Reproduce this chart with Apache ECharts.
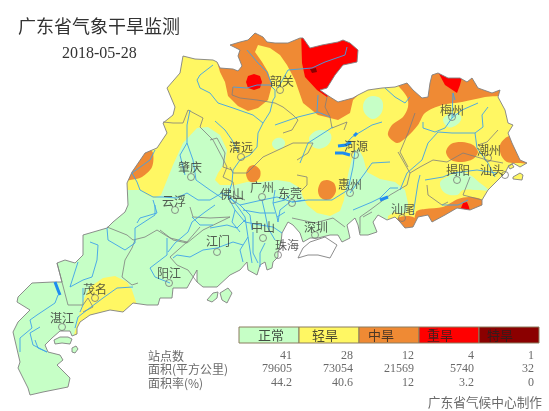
<!DOCTYPE html>
<html>
<head>
<meta charset="utf-8">
<style>html,body{margin:0;padding:0;background:#fff}#map{width:549px;height:411px}</style>
<script src="https://cdn.jsdelivr.net/npm/echarts@6/dist/echarts.min.js"></script>
</head>
<body>
<div id="map"></div>
<script>
// 表格数据
var gradeNames = ['正常', '轻旱', '中旱', '重旱', '特旱'];
var gradeColors = ['#C6FFC6', '#FFF763', '#EF8A34', '#FF0000', '#8B0000'];
var stationCounts = ['41', '28', '12', '4', '1'];
var areaValues = ['79605', '73054', '21569', '5740', '32'];
var areaRates = ['44.2', '40.6', '12', '3.2', '0'];
var rowNames = ['站点数', '面积(平方公里)', '面积率(%)'];

// 城市
var cityNames = ['韶关', '清远', '河源', '梅州', '潮州', '汕头', '揭阳', '肇庆', '云浮', '佛山', '广州', '东莞', '惠州', '汕尾', '中山', '江门', '珠海', '深圳', '阳江', '茂名', '湛江'];
var cityLabels = [[282, 81], [241, 147], [356, 146], [452, 110], [489, 150], [492, 170], [458, 170], [190, 167], [174, 201], [232, 194], [262, 187], [290, 193], [350, 184], [403, 209], [263, 227], [218, 241], [287, 245], [316, 227], [169, 273], [95, 289], [62, 318]];
var cityDots = [[280, 90], [241, 157], [355, 155], [452, 117], [488, 158], [505, 175], [457, 180], [191, 177], [175, 210], [233, 200], [262, 197], [292, 203], [350, 193], [402, 218], [263, 238], [217, 252], [278, 255], [315, 235], [169, 283], [95, 298], [62, 327]];

// 省界(图上坐标)
var outline = [[183, 56], [195, 59], [213, 60], [217, 62], [220, 68], [233, 69], [238, 71], [242, 66], [238, 56], [240, 50], [230, 45], [240, 42], [248, 40], [255, 33], [263, 37], [267, 42], [275, 43], [288, 43], [300, 38], [303, 38], [310, 48], [322, 45], [338, 42], [343, 40], [350, 43], [358, 50], [357, 62], [343, 65], [335, 75], [327, 88], [320, 90], [327, 95], [338, 102], [353, 98], [358, 95], [368, 90], [382, 88], [395, 87], [407, 83], [413, 90], [422, 98], [428, 97], [430, 83], [432, 75], [438, 73], [448, 78], [460, 78], [467, 82], [472, 78], [478, 88], [492, 93], [500, 90], [498, 97], [505, 110], [508, 123], [513, 125], [508, 133], [512, 143], [520, 160], [527, 163], [520, 167], [513, 163], [508, 167], [505, 173], [495, 183], [488, 190], [482, 200], [482, 205], [470, 210], [457, 208], [445, 215], [432, 222], [428, 215], [418, 217], [413, 227], [405, 228], [400, 222], [395, 217], [387, 220], [378, 215], [373, 222], [377, 232], [368, 235], [360, 235], [358, 225], [355, 218], [347, 225], [350, 238], [342, 242], [338, 235], [330, 235], [318, 238], [310, 238], [303, 242], [300, 233], [293, 225], [288, 222], [282, 233], [281, 243], [278, 252], [278, 257], [273, 262], [272, 268], [267, 270], [265, 262], [260, 265], [257, 275], [248, 270], [247, 262], [240, 270], [230, 275], [217, 287], [203, 287], [197, 282], [197, 270], [187, 288], [173, 288], [172, 298], [160, 298], [158, 305], [147, 305], [133, 303], [123, 312], [110, 310], [90, 315], [80, 322], [77, 328], [77, 334], [72, 336], [70, 331], [60, 331], [52, 338], [45, 345], [48, 352], [60, 355], [63, 360], [57, 365], [70, 378], [68, 387], [43, 392], [30, 395], [28, 388], [18, 368], [20, 362], [13, 332], [18, 322], [30, 310], [17, 302], [18, 297], [32, 283], [53, 282], [62, 282], [57, 263], [65, 260], [75, 263], [83, 255], [83, 235], [107, 228], [113, 222], [125, 212], [128, 205], [127, 183], [132, 172], [145, 153], [157, 148], [167, 133], [163, 123], [173, 115], [175, 107], [167, 88], [180, 73]];
var islandDonghai = [[54, 340], [60, 337], [68, 337], [72, 339], [70, 344], [62, 343], [55, 344]];
var islandNaozhou = [[72, 348], [76, 346], [78, 349], [75, 353], [72, 352]];
var islandHailing = [[207, 300], [213, 293], [218, 292], [217, 298], [212, 302]];
var islandShangchuan = [[220, 293], [228, 288], [232, 293], [227, 303], [222, 300]];
var islandNanao = [[513, 177], [520, 173], [523, 175], [522, 180], [513, 179]];
var islandEast = [[508, 166], [512, 164], [514, 167], [510, 169]];
var hongKong = [[310, 242], [325, 237], [337, 245], [330, 258], [318, 255], [308, 255], [298, 258], [303, 248]];

// 干旱等级分区
var yellowBase = [[0, 0], [549, 0], [549, 411], [0, 411]];
var greenMain = [[[100, 189], [130, 190], [140, 190], [147, 195], [155, 198], [161, 195], [173, 165], [183, 143], [197, 128], [208, 127], [220, 135], [227, 150], [225, 163], [218, 173], [215, 180], [220, 185], [235, 185], [247, 182], [260, 182], [277, 180], [290, 182], [300, 188], [303, 197], [307, 205], [317, 213], [330, 216], [340, 211], [344, 200], [346, 185], [349, 170], [353, 155], [358, 148], [363, 157], [367, 172], [380, 179], [395, 182], [405, 190], [408, 203], [407, 212], [400, 214], [395, 212], [388, 216], [385, 260], [200, 340], [0, 411], [0, 250]]];
var greenBlobs = [
    [[363, 107], [366, 99], [373, 96], [381, 99], [383, 107], [380, 115], [373, 119], [366, 115]],
    [[443, 120], [447, 115], [453, 113], [460, 115], [461, 120], [455, 126], [448, 127]],
    [[272, 143], [277, 138], [283, 139], [285, 144], [281, 149], [275, 149]],
    [[309, 139], [314, 132], [322, 130], [330, 133], [331, 140], [325, 147], [315, 148]],
    [[440, 183], [447, 177], [460, 172], [470, 175], [480, 183], [488, 190], [477, 190], [463, 190], [457, 195], [445, 193]]
];
var yellowMaoming = [[74, 335], [78, 320], [82, 303], [90, 287], [103, 278], [115, 276], [127, 282], [132, 290], [137, 305], [120, 325], [80, 340]];
var orangeNorth = [[[216, 58], [216, 25], [310, 25], [320, 85], [345, 85], [358, 95], [353, 100], [350, 113], [338, 120], [318, 115], [303, 103], [295, 80], [287, 65], [280, 55], [270, 48], [258, 45], [255, 52], [262, 62], [268, 72], [272, 85], [268, 100], [258, 108], [248, 111], [238, 106], [228, 96], [225, 82], [220, 72]]];
var orangeZones = [
    [[395, 80], [407, 97], [408, 107], [403, 117], [392, 125], [388, 135], [397, 143], [407, 137], [418, 125], [425, 113], [442, 105], [462, 102], [485, 97], [505, 94], [510, 80], [470, 60], [400, 70]],
    [[446, 152], [451, 144], [462, 142], [473, 145], [478, 152], [473, 159], [462, 162], [451, 160]],
    [[507, 137], [500, 145], [501, 155], [507, 162], [520, 163], [532, 163], [520, 135]],
    [[246, 174], [249, 167], [254, 165], [260, 170], [260, 177], [255, 182], [249, 181]],
    [[318, 190], [321, 182], [327, 180], [334, 183], [336, 191], [332, 198], [326, 200], [320, 197]],
    [[148, 148], [153, 153], [152, 167], [142, 177], [130, 180], [118, 181], [130, 150]],
    [[416, 212], [425, 209], [443, 207], [458, 199], [470, 197], [482, 200], [492, 215], [440, 240], [416, 232]],
    [[397, 219], [408, 216], [416, 219], [420, 232], [400, 235]]
];
var redZones = [
    [[301, 30], [302, 63], [305, 77], [317, 90], [327, 97], [340, 80], [370, 60], [370, 30]],
    [[437, 70], [445, 85], [457, 93], [460, 85], [462, 77], [465, 65], [440, 65]],
    [[246, 82], [248, 76], [254, 74], [260, 76], [262, 82], [260, 88], [254, 90], [248, 88]],
    [[461, 208], [463, 203], [467, 202], [469, 207], [470, 212], [462, 212]]
];
var darkRedZones = [[[310, 69], [316, 68], [317, 72], [312, 73]]];

// 河流
var rivers = [
    [[233, 87], [247, 88], [257, 85], [270, 85], [275, 90], [275, 97], [273, 100], [270, 112], [263, 123], [258, 133], [257, 147], [250, 155], [240, 160], [233, 170], [232, 183], [228, 195]],
    [[247, 50], [258, 63], [267, 72], [272, 85]],
    [[278, 88], [288, 70], [312, 68], [325, 62], [345, 55], [347, 47]],
    [[213, 65], [200, 75], [197, 80], [200, 88], [210, 93], [218, 103], [233, 108], [253, 115], [263, 123]],
    [[215, 121], [225, 130], [232, 140], [238, 152]],
    [[190, 110], [187, 125], [187, 143], [193, 160], [196, 180], [210, 190], [222, 198]],
    [[187, 143], [180, 155], [185, 175]],
    [[155, 150], [150, 160], [132, 173], [137, 182], [140, 190], [153, 197], [163, 197], [177, 198], [187, 193], [198, 200], [210, 200], [222, 193], [230, 197], [238, 207], [245, 217], [248, 237], [252, 263]],
    [[215, 205], [205, 212], [192, 222], [188, 232], [175, 243], [168, 252]],
    [[153, 200], [157, 213], [140, 218], [137, 223]],
    [[155, 205], [155, 215], [135, 228], [135, 243], [125, 250], [108, 240], [107, 228]],
    [[167, 238], [167, 255], [150, 268], [155, 277], [170, 283]],
    [[90, 242], [98, 245], [97, 260], [92, 277], [83, 280], [70, 287], [78, 262]],
    [[133, 287], [117, 288], [103, 298], [87, 310], [78, 317], [75, 328]],
    [[83, 288], [83, 305], [80, 312]],
    [[58, 295], [55, 303], [37, 315], [30, 320], [32, 328], [20, 338], [20, 352]],
    [[47, 352], [33, 345], [30, 333], [40, 327]],
    [[35, 340], [38, 348], [47, 352]],
    [[228, 197], [235, 210], [245, 222], [260, 225], [273, 227], [282, 233]],
    [[228, 197], [240, 205], [250, 215], [252, 230]],
    [[235, 210], [232, 222], [240, 232]],
    [[262, 200], [265, 213], [268, 228], [275, 240]],
    [[248, 237], [240, 250], [243, 262]],
    [[273, 203], [285, 200], [290, 195]],
    [[277, 217], [285, 212]],
    [[275, 190], [273, 203], [277, 217], [278, 222]],
    [[243, 210], [260, 213], [275, 213]],
    [[290, 202], [280, 210], [278, 222]],
    [[305, 200], [292, 202], [277, 197], [262, 200], [240, 205]],
    [[253, 232], [253, 253], [258, 263]],
    [[265, 243], [260, 253], [260, 267]],
    [[210, 228], [227, 225], [237, 228], [245, 220]],
    [[173, 258], [177, 255], [190, 257], [203, 250], [217, 248], [233, 242], [243, 245]],
    [[213, 225], [200, 225], [192, 217]],
    [[275, 125], [298, 117], [318, 112], [330, 117]],
    [[318, 95], [317, 112]],
    [[333, 127], [308, 143], [300, 163]],
    [[382, 122], [372, 125], [352, 137], [343, 147]],
    [[355, 150], [353, 167], [348, 190], [332, 200], [308, 200], [292, 202]],
    [[390, 162], [372, 163], [365, 173], [350, 193]],
    [[398, 188], [390, 188], [380, 198], [372, 202], [353, 210]],
    [[423, 122], [423, 128], [435, 132], [445, 128], [452, 118], [462, 110], [478, 103]],
    [[455, 100], [453, 93], [452, 118]],
    [[488, 107], [482, 115], [483, 127], [475, 133], [477, 148], [488, 163], [495, 177]],
    [[475, 133], [452, 133], [438, 132], [428, 143], [422, 160], [407, 173], [400, 190]],
    [[410, 97], [405, 103], [395, 97], [385, 88]],
    [[420, 175], [418, 183], [413, 215]],
    [[425, 180], [443, 177], [452, 173], [477, 170], [497, 173]],
    [[442, 205], [458, 205], [468, 200]]
];
var lakes = [
    [[55, 282], [58, 290], [60, 295]],
    [[335, 153], [343, 153], [350, 155]],
    [[338, 146], [346, 145], [351, 142]],
    [[354, 136], [357, 133]],
    [[380, 200], [388, 197]]
];

// 市界
var borders = [
    [[233, 87], [232, 95], [240, 98], [257, 100], [275, 103], [283, 107], [293, 115], [298, 120], [292, 130], [283, 133]],
    [[327, 97], [325, 107], [330, 117], [332, 128], [347, 122], [344, 130]],
    [[297, 160], [308, 153], [313, 143], [293, 143], [278, 150], [263, 157], [247, 173], [233, 173], [230, 167]],
    [[210, 140], [217, 138], [225, 153], [223, 167], [232, 170]],
    [[163, 122], [173, 123], [183, 123], [188, 110], [203, 118], [200, 127], [213, 140], [222, 157], [227, 167], [223, 177], [233, 182], [235, 195], [245, 200]],
    [[190, 207], [193, 217], [210, 218], [230, 217], [203, 230], [187, 243], [173, 240], [160, 230]],
    [[107, 227], [127, 235], [133, 240], [145, 237], [157, 230], [170, 238], [187, 242], [200, 227]],
    [[132, 248], [125, 260], [122, 277], [132, 285], [138, 283]],
    [[135, 240], [132, 248]],
    [[170, 257], [177, 265], [188, 270], [197, 282]],
    [[187, 242], [170, 257]],
    [[57, 263], [68, 305], [83, 305], [88, 298], [93, 307], [83, 312]],
    [[398, 152], [410, 173], [407, 185], [390, 195], [370, 210], [360, 217], [360, 233]],
    [[410, 173], [420, 167], [433, 160], [447, 162], [463, 153], [477, 157], [487, 160], [503, 163]],
    [[427, 185], [428, 195], [442, 205], [448, 202]],
    [[470, 177], [463, 195], [482, 200]],
    [[415, 113], [408, 133], [400, 152], [408, 167]],
    [[498, 130], [487, 142], [478, 145]],
    [[297, 175], [307, 177], [307, 185], [300, 192]],
    [[292, 218], [315, 223], [333, 218], [345, 227]],
    [[363, 217], [372, 212]]
];

// 图例位置
var legendEdges = [239, 299, 359, 419, 479, 539];
var legendLabelX = [271, 325, 381, 440, 500];
var columnRight = [292, 353, 414, 474, 534];
var rowY = [356, 369, 383];

function polygonSeries(zones, color, z, smooth) {
    return {
        type: 'custom', coordinateSystem: 'cartesian2d', z: z, silent: true,
        data: zones.map(function (p, i) { return [i]; }),
        encode: {x: 0, y: 0},
        renderItem: function (params, api) {
            var pts = zones[api.value(0)].map(function (p) { return api.coord(p); });
            return {type: 'polygon', shape: {points: pts, smooth: smooth}, style: {fill: color}};
        }
    };
}

function signedArea(ring) {
    var s = 0;
    for (var i = 0; i < ring.length; i++) {
        var a = ring[i], b = ring[(i + 1) % ring.length];
        s += a[0] * b[1] - b[0] * a[1];
    }
    return s;
}

// 省外白色遮罩: 外框与省界方向相反, 省界内不填充
function maskSeries(rings) {
    return {
        type: 'custom', coordinateSystem: 'cartesian2d', z: 5, silent: true,
        data: [[0]], encode: {x: 0, y: 0},
        renderItem: function (params, api) {
            var w = api.getWidth(), h = api.getHeight();
            var d = 'M0 0L' + w + ' 0L' + w + ' ' + h + 'L0 ' + h + 'Z';
            rings.forEach(function (ring) {
                var r = ring.map(function (p) { return api.coord(p); });
                if (signedArea(r) > 0) r.reverse();
                d += 'M' + r.map(function (p) { return p[0] + ' ' + p[1]; }).join('L') + 'Z';
            });
            return {type: 'path', shape: {pathData: d, x: 0, y: 0, width: w, height: h, layout: 'cover'}, style: {fill: '#fff'}};
        }
    };
}

function lineSeries(lines, color, width, z) {
    return {
        type: 'lines', coordinateSystem: 'cartesian2d', polyline: true, z: z, silent: true,
        lineStyle: {color: color, width: width, opacity: 1},
        data: lines.map(function (l) { return {coords: l}; })
    };
}

function textSeries(points, texts, font, size, color, align, z) {
    return {
        type: 'scatter', coordinateSystem: 'cartesian2d', symbolSize: 0, z: z, silent: true,
        data: points.map(function (p, i) {
            return {value: p, label: {formatter: texts[i]}};
        }),
        label: {show: true, position: 'inside', fontFamily: font, fontSize: size, color: color, align: align, verticalAlign: 'middle'}
    };
}

function closed(ring) { return ring.concat([ring[0]]); }

var allRings = [outline, islandDonghai, islandNaozhou, islandHailing, islandShangchuan, islandNanao, islandEast];
var cjk = '"Noto Sans CJK SC"';
var serif = '"Liberation Serif"';

var legendBoxes = gradeNames.map(function (n, i) { return [i]; });
var rowPoints = [], rowTexts = [];
[stationCounts, areaValues, areaRates].forEach(function (vals, r) {
    vals.forEach(function (v, c) {
        rowPoints.push([columnRight[c], rowY[r]]);
        rowTexts.push(v);
    });
});

var chart = echarts.init(document.getElementById('map'));
chart.setOption({
    animation: false,
    title: [
        {text: '广东省气象干旱监测', left: 13, top: 12, textStyle: {fontFamily: cjk, fontSize: 18, fontWeight: 'normal', color: '#333'}},
        {text: '2018-05-28', left: 57, top: 41, textStyle: {fontFamily: serif, fontSize: 16, fontWeight: 'normal', color: '#333'}}
    ],
    grid: {left: 0, right: 0, top: 0, bottom: 0, show: true, borderColor: '#808080', borderWidth: 2, backgroundColor: '#fff'},
    xAxis: {type: 'value', min: 0, max: 549, show: false},
    yAxis: {type: 'value', min: 0, max: 411, inverse: true, show: false},
    series: [
        polygonSeries([yellowBase], gradeColors[1], 1, 0),
        polygonSeries(greenMain, gradeColors[0], 2, 0),
        polygonSeries(greenBlobs, gradeColors[0], 2.2, 0.4),
        polygonSeries([yellowMaoming], gradeColors[1], 2.5, 0),
        polygonSeries(orangeNorth, gradeColors[2], 3, 0),
        polygonSeries(orangeZones, gradeColors[2], 3, 0.3),
        polygonSeries(redZones, gradeColors[3], 3.5, 0),
        polygonSeries(darkRedZones, gradeColors[4], 3.6, 0),
        maskSeries(allRings),
        polygonSeries([hongKong], '#fff', 5.5, 0),
        lineSeries(borders, '#7d7d7d', 0.8, 6),
        lineSeries(allRings.concat([hongKong]).map(closed), '#808080', 0.9, 6.5),
        lineSeries(rivers, '#3DA2EA', 0.9, 7),
        lineSeries(lakes, '#1E8CF0', 3, 7),
        {
            type: 'scatter', coordinateSystem: 'cartesian2d', z: 8, silent: true, symbol: 'circle', symbolSize: 7,
            itemStyle: {color: 'transparent', borderColor: '#777', borderWidth: 1},
            data: cityDots
        },
        textSeries(cityLabels, cityNames, cjk, 12, '#333', 'center', 9),
        {
            type: 'custom', coordinateSystem: 'cartesian2d', z: 9, silent: true,
            data: legendBoxes, encode: {x: 0, y: 0},
            renderItem: function (params, api) {
                var i = api.value(0);
                var a = api.coord([legendEdges[i], 327]), b = api.coord([legendEdges[i + 1], 343]);
                return {type: 'rect', shape: {x: a[0], y: a[1], width: b[0] - a[0], height: b[1] - a[1]},
                    style: {fill: gradeColors[i], stroke: '#8a7d5e', lineWidth: 1}};
            }
        },
        textSeries(legendLabelX.map(function (x) { return [x, 335]; }), gradeNames, cjk, 13, '#222', 'center', 10),
        textSeries(rowY.map(function (y) { return [148, y]; }), rowNames, cjk, 12, '#444', 'left', 10),
        textSeries(rowPoints, rowTexts, serif, 12, '#444', 'right', 10),
        textSeries([[542, 402]], ['广东省气候中心制作'], cjk, 12.7, '#444', 'right', 10)
    ]
});
</script>
</body>
</html>
